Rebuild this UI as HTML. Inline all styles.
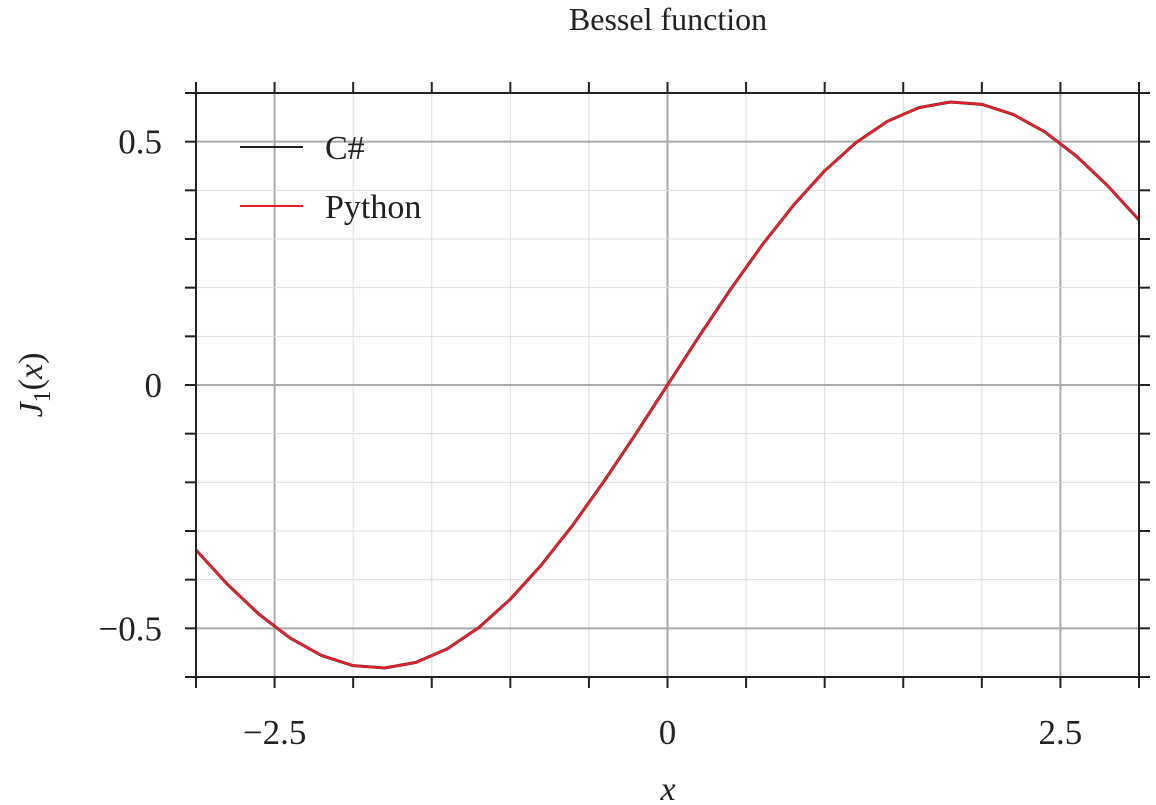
<!DOCTYPE html>
<html><head><meta charset="utf-8"><style>
html,body{margin:0;padding:0;background:#fff;}
svg{display:block;font-family:"Liberation Serif",serif;}
</style></head><body>
<svg id="chart" width="1156" height="805" viewBox="0 0 1156 805" xmlns="http://www.w3.org/2000/svg">
<text x="668" y="30" font-size="32" text-anchor="middle" fill="#222">Bessel function</text>
<g id="grid"></g>
<g id="series"></g>
<rect x="196" y="93" width="943" height="584" fill="none" stroke="#222" stroke-width="2"/>
<g id="ticks"></g>
<text x="668" y="800" font-size="34" font-style="italic" text-anchor="middle" fill="#222">x</text>
<text transform="translate(42,385) rotate(-90)" font-size="34" text-anchor="middle" fill="#222"><tspan font-style="italic">J</tspan><tspan font-size="24" dy="8">1</tspan><tspan dy="-8">(</tspan><tspan font-style="italic">x</tspan><tspan>)</tspan></text>
<g>
<line x1="240" y1="147" x2="303" y2="147" stroke="#222" stroke-width="2"/>
<text x="325" y="159" font-size="34" fill="#222">C#</text>
<line x1="240" y1="206" x2="303" y2="206" stroke="#e8202a" stroke-width="2"/>
<text x="325" y="218" font-size="34" fill="#222">Python</text>
</g>
</svg>
<script>
const xValues=[-3,-2.8,-2.6,-2.4,-2.2,-2,-1.8,-1.6,-1.4,-1.2,-1,-0.8,-0.6,-0.4,-0.2,0,0.2,0.4,0.6,0.8,1,1.2,1.4,1.6,1.8,2,2.2,2.4,2.6,2.8,3];
const csharpValues=[-0.3391,-0.4097,-0.4708,-0.5202,-0.5560,-0.5767,-0.5815,-0.5699,-0.5419,-0.4983,-0.4401,-0.3688,-0.2867,-0.1960,-0.0995,0,0.0995,0.1960,0.2867,0.3688,0.4401,0.4983,0.5419,0.5699,0.5815,0.5767,0.5560,0.5202,0.4708,0.4097,0.3391];
const pythonValues=[-0.3391,-0.4097,-0.4708,-0.5202,-0.5560,-0.5767,-0.5815,-0.5699,-0.5419,-0.4983,-0.4401,-0.3688,-0.2867,-0.1960,-0.0995,0,0.0995,0.1960,0.2867,0.3688,0.4401,0.4983,0.5419,0.5699,0.5815,0.5767,0.5560,0.5202,0.4708,0.4097,0.3391];
const xTickValues=[-2.5,0,2.5];
const xTickLabels=["\u22122.5","0","2.5"];
const yTickValues=[-0.5,0,0.5];
const yTickLabels=["\u22120.5","0","0.5"];
const L=196,R=1139,T=93,B=677,X0=-3,X1=3,Y0=-0.6,Y1=0.6;
const sx=v=>L+(v-X0)/(X1-X0)*(R-L);
const sy=v=>B-(v-Y0)/(Y1-Y0)*(B-T);
const NS="http://www.w3.org/2000/svg";
function mk(tag,attrs,parent){const e=document.createElementNS(NS,tag);for(const k in attrs)e.setAttribute(k,attrs[k]);parent.appendChild(e);return e;}
const grid=document.getElementById('grid'),ticks=document.getElementById('ticks'),series=document.getElementById('series');
for(let i=-6;i<=6;i++){const v=i*0.5;const major=Math.abs(v%2.5)<1e-9;const x=sx(v);
 const g=mk('line',{x1:x,y1:T,x2:x,y2:B,stroke:major?'#aaa':'#ddd','stroke-width':major?2:1},grid);
 
 const t1=mk('line',{x1:x,y1:B,x2:x,y2:B+11,stroke:'#222','stroke-width':2},ticks);
 
 const t2=mk('line',{x1:x,y1:T-11,x2:x,y2:T,stroke:'#222','stroke-width':2},ticks);
 }
for(let i=-6;i<=6;i++){const v=i*0.1;const major=i%5===0;const y=sy(v);
 const g=mk('line',{x1:L,y1:y,x2:R,y2:y,stroke:major?'#aaa':'#ddd','stroke-width':major?2:1},grid);
 
 const t1=mk('line',{x1:L-11,y1:y,x2:L,y2:y,stroke:'#222','stroke-width':2},ticks);
 
 const t2=mk('line',{x1:R,y1:y,x2:R+11,y2:y,stroke:'#222','stroke-width':2},ticks);
 }
xTickValues.forEach((v,i)=>{const t=mk('text',{x:sx(v),y:744,'font-size':35,'text-anchor':'middle',fill:'#222'},ticks);t.textContent=xTickLabels[i];
 });
yTickValues.forEach((v,i)=>{const t=mk('text',{x:162,y:sy(v)+12,'font-size':35,'text-anchor':'end',fill:'#222'},ticks);t.textContent=yTickLabels[i];
 });
function line(vals,color,w,name){const p=mk('polyline',{points:vals.map((v,i)=>sx(xValues[i])+','+sy(v)).join(' '),fill:'none',stroke:color,'stroke-width':w,'stroke-linejoin':'round'},series);
 }
line(csharpValues,'#222',3,'csharp-line');
line(pythonValues,'#e8202a',2.4,'python-line');
</script>
</body></html>
